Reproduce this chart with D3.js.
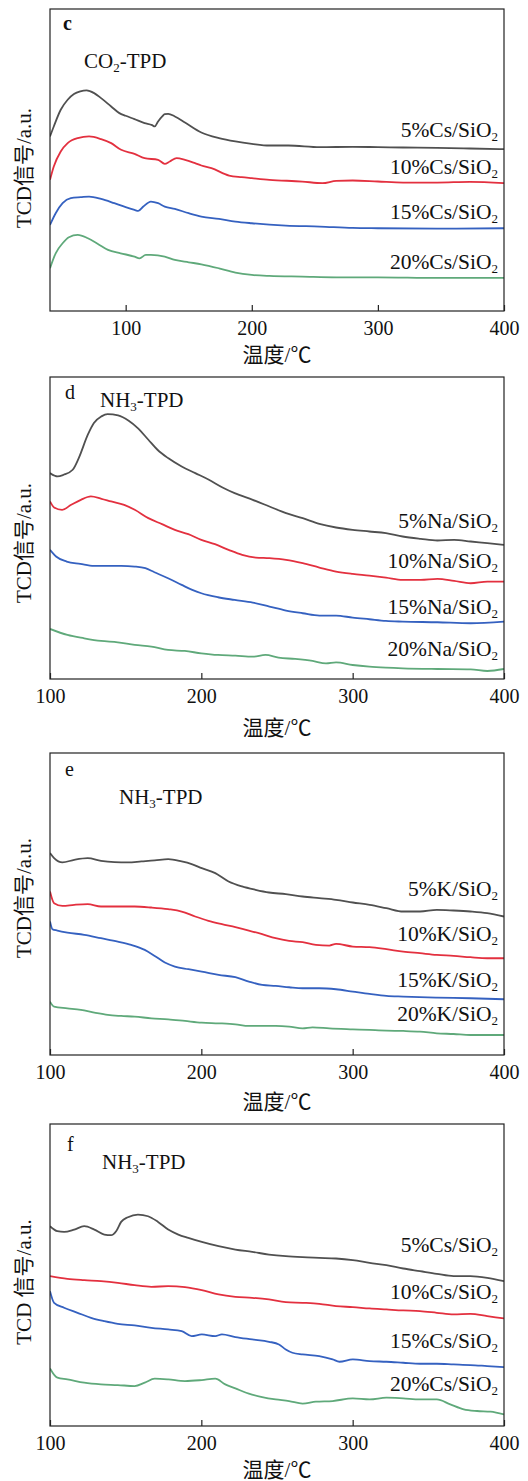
<!DOCTYPE html>
<html><head><meta charset="utf-8">
<script src="https://cdn.jsdelivr.net/npm/d3@7"></script>
<style>body{margin:0;background:#fff} svg{display:block}</style>
</head><body>
<script>
// ---------- DATA (temperature °C, TCD signal a.u.) ----------
const xTicks = [100, 200, 300, 400];

// panel c : CO2-TPD, Cs/SiO2
const cCs5 = [[40,590],[43,620],[48.5,670],[54,700],[59,717],[64,725],[69,728],[75,720],[80.5,705],[88.5,680],[95,660],[100,652],[107,642],[115,630],[121,624],[123,620],[125.7,635],[129,650],[131,657],[133.7,658],[139,650],[147,632],[160,602],[174,585],[187,575],[200,568],[214,563],[229,563],[254,558],[280,559],[300,558],[320,557],[347,556],[373,554],[400,552]];
const cCs10 = [[40,460],[43,500],[48.5,545],[54,570],[62,585],[71,590],[80.5,582],[88.5,570],[96.4,550],[107,538],[115,525],[125.7,520],[131,508],[135,515],[140.4,525],[147,520],[155,510],[160,503],[168,495],[182,473],[192,468],[200,465],[214,460],[240,455],[256,450],[267,457],[280,458],[300,455],[320,452],[347,452],[373,454],[400,450]];
const cCs15 = [[40,325],[44.5,360],[50,390],[56.5,405],[64.5,408],[71,410],[80.5,403],[91,390],[100,378],[107,370],[110,367],[114,380],[120,395],[125.7,390],[131,380],[139,373],[150,360],[160,350],[174,343],[187,335],[200,330],[227,323],[254,320],[280,316],[300,315],[347,314],[400,315]];
const cCs20 = [[40,195],[44.5,240],[50,270],[55,288],[62,295],[70,285],[78,268],[86,250],[96,240],[107,230],[111,225],[116,235],[120,235],[131,230],[139,220],[150,213],[160,207],[174,195],[187,182],[200,175],[214,172],[240,170],[267,168],[300,168],[347,166],[400,166]];
const cLabels = ["5%Cs/SiO", "10%Cs/SiO", "15%Cs/SiO", "20%Cs/SiO"];

// panel d : NH3-TPD, Na/SiO2
const dNa5 = [[100,675],[105,665],[109,670],[115,685],[119,720],[125,790],[129,825],[134,845],[138,852],[145,848],[152,832],[158,810],[165,775],[171,745],[178,720],[187,695],[196,675],[205,655],[214,632],[222,615],[234,595],[245,575],[256,555],[267,540],[278,523],[289,512],[300,505],[311,500],[322,495],[333,485],[345,478],[356,473],[367,475],[378,470],[389,465],[400,460]];
const dNa10 = [[100,590],[102.7,572],[108,565],[114,580],[120.4,595],[127,605],[134,598],[140.4,590],[149,580],[156,565],[165,540],[174,522],[182.5,505],[191.4,492],[200,475],[209,462],[218,445],[227,430],[236,422],[245,420],[256,415],[267,405],[278,392],[289,380],[300,373],[311,368],[322,362],[333,355],[345,355],[356,358],[367,352],[378,345],[389,350],[400,350]];
const dNa15 = [[100,445],[104,425],[111,410],[120,403],[129,397],[138,397],[147,397],[156,395],[163,390],[169,378],[178,360],[187,340],[194,325],[200,315],[211,303],[222,295],[234,287],[245,275],[256,263],[267,255],[278,248],[289,248],[300,242],[311,237],[322,232],[333,230],[356,228],[378,225],[400,230]];
const dNa20 = [[100,208],[111.5,190],[122.6,180],[133.7,172],[144.8,168],[156,160],[167,155],[178,145],[189,142],[200,135],[211,130],[222.5,128],[234,125],[242.4,130],[251,122],[262,118],[273.5,112],[282.4,105],[289,108],[300,100],[311,95],[322,92],[333,90],[356,88],[378,87],[389,82],[400,88]];
const dLabels = ["5%Na/SiO", "10%Na/SiO", "15%Na/SiO", "20%Na/SiO"];

// panel e : NH3-TPD, K/SiO2
const eK5 = [[100,660],[102.7,645],[108.2,632],[116,640],[124.9,645],[133.7,637],[142.6,633],[151.5,632],[160.4,635],[169.2,638],[178.1,642],[187,635],[193.6,627],[200.3,615],[209.2,600],[218,575],[226.9,560],[235.8,550],[244.7,542],[255.8,537],[266.9,530],[277.9,525],[289,520],[300.1,512],[311.2,505],[322.3,495],[333.4,485],[344.5,485],[355.6,490],[366.7,488],[377.8,485],[388.9,480],[400,470]];
const eK10 = [[100,545],[102.7,510],[108.2,502],[116,505],[124.9,507],[133.7,500],[144.8,500],[155.9,500],[167,497],[178.1,492],[187,485],[195.9,470],[204.7,457],[213.6,447],[222.5,438],[231.4,428],[240.2,417],[249.1,405],[258,397],[266.9,393],[275.7,385],[284.6,383],[289,388],[300.1,380],[311.2,378],[322.3,372],[333.4,365],[344.5,360],[355.6,355],[366.7,352],[377.8,348],[388.9,345],[400,345]];
const eK15 = [[100,455],[101.6,432],[104.9,428],[111.5,422],[122.6,415],[133.7,405],[144.8,395],[153.7,385],[162.6,370],[169.2,352],[175.9,332],[182.5,320],[191.4,312],[200.3,305],[211.4,295],[222.5,288],[231.4,275],[240.2,265],[249.1,262],[258,258],[266.9,255],[277.9,255],[289,252],[300.1,245],[311.2,238],[322.3,232],[333.4,230],[355.6,227],[377.8,225],[400,222]];
const eK20 = [[100,215],[102.7,200],[111.5,195],[120.4,190],[129.3,182],[138.2,175],[147,172],[155.9,170],[167,165],[178.1,162],[189.2,157],[200.3,152],[211.4,150],[222.5,147],[231.4,142],[240.2,142],[249.1,142],[258,140],[266.9,135],[273.5,138],[284.6,135],[300.1,132],[311.2,130],[322.3,128],[333.4,127],[344.5,125],[355.6,120],[366.7,118],[377.8,115],[388.9,115],[400,115]];
const eLabels = ["5%K/SiO", "10%K/SiO", "15%K/SiO", "20%K/SiO"];

// panel f : NH3-TPD, Cs/SiO2
const fCs5 = [[100,665],[104.9,650],[109.3,648],[116,655],[122.6,665],[129.3,655],[135.9,640],[140.4,638],[143.7,650],[147,678],[151.5,692],[158.1,700],[164.8,695],[171.4,678],[178.1,655],[184.8,640],[191.4,630],[200.3,618],[211.4,605],[222.5,595],[233.6,588],[244.7,580],[255.8,575],[266.9,572],[277.9,570],[289,568],[300.1,563],[311.2,555],[322.3,548],[333.4,538],[344.5,530],[355.6,522],[366.7,515],[377.8,515],[388.9,510],[400,500]];
const fCs10 = [[100,515],[111.5,507],[122.6,503],[133.7,500],[144.8,495],[155.9,488],[167,483],[178.1,485],[189.2,482],[200.3,473],[211.4,460],[222.5,453],[233.6,450],[244.7,445],[255.8,437],[266.9,435],[277.9,432],[289,425],[300.1,422],[311.2,418],[322.3,415],[333.4,412],[344.5,410],[355.6,405],[366.7,400],[377.8,402],[388.9,395],[400,388]];
const fCs15 = [[100,470],[102.7,435],[109.3,420],[118.2,405],[127.1,390],[135.9,380],[144.8,372],[155.9,367],[167,360],[178.1,355],[187,350],[193.6,335],[200.3,340],[209.2,335],[213.6,340],[222.5,332],[233.6,325],[244.7,318],[251.3,310],[255.8,295],[260.2,285],[266.9,280],[277.9,275],[286.8,265],[291.3,258],[300.1,265],[311.2,260],[322.3,258],[333.4,255],[344.5,252],[355.6,252],[366.7,250],[377.8,248],[388.9,245],[400,242]];
const fCs20 = [[100,238],[104.9,210],[111.5,205],[122.6,195],[133.7,190],[144.8,188],[155.9,185],[162.6,195],[169.2,207],[178.1,205],[189.2,200],[200.3,203],[209.2,207],[215.8,190],[222.5,178],[231.4,162],[240.2,152],[249.1,145],[258,140],[266.9,132],[275.7,138],[286.8,140],[300.1,148],[311.2,145],[322.3,150],[333.4,148],[344.5,145],[355.6,145],[364.5,130],[373.4,115],[382.2,110],[391.1,108],[400,100]];
const fLabels = ["5%Cs/SiO", "10%Cs/SiO", "15%Cs/SiO", "20%Cs/SiO"];

const xTitle = "温度/℃";
// ---------- LAYOUT / STYLE ----------
const W = 528, H = 1481;
const colors = ["#505050", "#e3303f", "#3561c0", "#5fa97a"];
const fontFam = "'Liberation Serif','Times New Roman','Noto Sans CJK SC',serif";
const left = 50, right = 504;
const fsLabel = 21.5, fsTick = 20, fsTitle = 21;

const panels = [
  {top: 9, bottom: 311, xDomain: [40, 400], yDomain: [67, 972], series: [cCs5, cCs10, cCs15, cCs20], labels: cLabels,
   letter: "c", letterPos: [63, 30], letterBold: true, gas: ["CO", "2", "-TPD"], gasPos: [84, 68],
   labelY: [137, 174, 219, 269], yTitle: "TCD信号/a.u.", yTitleDy: 8, xTitleDy: 51},
  {top: 377, bottom: 679, xDomain: [100, 400], yDomain: [58, 963], series: [dNa5, dNa10, dNa15, dNa20], labels: dLabels,
   letter: "d", letterPos: [65, 399], letterBold: false, gas: ["NH", "3", "-TPD"], gasPos: [100, 407],
   labelY: [528, 568, 614, 656], yTitle: "TCD信号/a.u.", yTitleDy: 15, xTitleDy: 56},
  {top: 753, bottom: 1055, xDomain: [100, 400], yDomain: [55, 960], series: [eK5, eK10, eK15, eK20], labels: eLabels,
   letter: "e", letterPos: [65, 776], letterBold: false, gas: ["NH", "3", "-TPD"], gasPos: [119, 804],
   labelY: [896, 941, 987, 1021], yTitle: "TCD信号/a.u.", yTitleDy: -6, xTitleDy: 54},
  {top: 1124, bottom: 1426, xDomain: [100, 400], yDomain: [65, 972], series: [fCs5, fCs10, fCs15, fCs20], labels: fLabels,
   letter: "f", letterPos: [67, 1151], letterBold: false, gas: ["NH", "3", "-TPD"], gasPos: [102, 1169],
   labelY: [1252, 1299, 1348, 1391], yTitle: "TCD 信号/a.u.", yTitleDy: 7, xTitleDy: 51}
];

const svg = d3.select("body").append("svg").attr("width", W).attr("height", H)
  .style("font-family", fontFam);

panels.forEach((p, pi) => {
  const x = d3.scaleLinear().domain(p.xDomain).range([left, right]);
  const y = d3.scaleLinear().domain(p.yDomain).range([p.bottom, p.top]);
  const g = svg.append("g");
  const clipId = "clip" + pi;
  g.append("clipPath").attr("id", clipId).append("rect")
    .attr("x", left).attr("y", p.top).attr("width", right - left).attr("height", p.bottom - p.top);

  const line = d3.line().x(d => x(d[0])).y(d => y(d[1])).curve(d3.curveMonotoneX);
  p.series.forEach((s, i) => {
    g.append("path").datum(s).attr("d", line).attr("fill", "none")
      .attr("stroke", colors[i]).attr("stroke-width", 1.8).attr("stroke-linejoin", "round")
      .attr("clip-path", `url(#${clipId})`);
  });

  // frame
  g.append("rect").attr("x", left).attr("y", p.top).attr("width", right - left).attr("height", p.bottom - p.top)
    .attr("fill", "none").attr("stroke", "#222").attr("stroke-width", 1.2);

  // x axis
  const ax = g.append("g").attr("transform", `translate(0,${p.bottom})`)
    .call(d3.axisBottom(x).tickValues(xTicks).tickFormat(d3.format("d")).tickSizeInner(-6).tickSizeOuter(0).tickPadding(10));
  ax.select(".domain").remove();
  ax.selectAll("line").attr("stroke", "#222").attr("stroke-width", 1.2);
  ax.selectAll("text").attr("font-size", fsTick).attr("font-family", fontFam).attr("fill", "#111");

  // x title
  g.append("text").attr("x", (left + right) / 2).attr("y", p.bottom + p.xTitleDy)
    .attr("text-anchor", "middle").attr("font-size", fsTitle).attr("fill", "#111").text(xTitle);

  // y title
  const cy = (p.top + p.bottom) / 2 + p.yTitleDy;
  g.append("text").attr("transform", `translate(31,${cy}) rotate(-90)`)
    .attr("text-anchor", "middle").attr("font-size", fsTitle).attr("fill", "#111").text(p.yTitle);

  // panel letter
  g.append("text").attr("x", p.letterPos[0]).attr("y", p.letterPos[1]).attr("font-size", 20)
    .attr("font-weight", p.letterBold ? "bold" : "normal").attr("fill", "#111").text(p.letter);

  // gas label
  const gt = g.append("text").attr("x", p.gasPos[0]).attr("y", p.gasPos[1]).attr("font-size", fsTitle).attr("fill", "#111");
  gt.append("tspan").text(p.gas[0]);
  gt.append("tspan").attr("dy", 4).attr("font-size", 13).text(p.gas[1]);
  gt.append("tspan").attr("dy", -4).text(p.gas[2]);

  // series labels
  p.labels.forEach((lab, i) => {
    const t = g.append("text").attr("x", 498).attr("y", p.labelY[i]).attr("text-anchor", "end")
      .attr("font-size", fsLabel).attr("fill", "#111");
    t.append("tspan").text(lab);
    t.append("tspan").attr("dy", 4).attr("font-size", 13).text("2");
  });
});
</script>
</body></html>
